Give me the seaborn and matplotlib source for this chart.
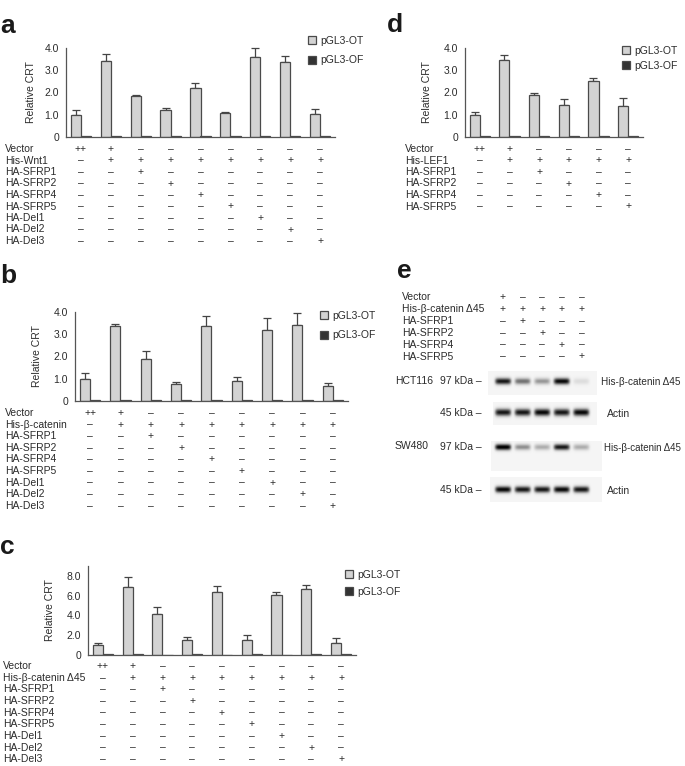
import numpy as np
import pandas as pd
import seaborn as sns
import matplotlib.pyplot as plt
from matplotlib import transforms

sns.set_style("white")
plt.rcParams['font.family'] = ['Liberation Sans', 'DejaVu Sans']

W, H = 685, 766
TXT = "#2b2b2b"
FS = 7.5

series = ["pGL3-OT", "pGL3-OF"]

# panel a - Wnt1
a_rows = ["Vector", "His-Wnt1", "HA-SFRP1", "HA-SFRP2", "HA-SFRP4",
          "HA-SFRP5", "HA-Del1", "HA-Del2", "HA-Del3"]
a_ot = [1.0, 3.43, 1.86, 1.22, 2.22, 1.08, 3.6, 3.36, 1.05]
a_err = [0.22, 0.3, 0.02, 0.07, 0.2, 0.05, 0.4, 0.3, 0.22]
a_of = [0.04, 0.04, 0.03, 0.04, 0.03, 0.04, 0.03, 0.05, 0.04]

# panel b - beta-catenin
b_rows = ["Vector", "His-β-catenin", "HA-SFRP1", "HA-SFRP2", "HA-SFRP4",
          "HA-SFRP5", "HA-Del1", "HA-Del2", "HA-Del3"]
b_ot = [1.0, 3.39, 1.88, 0.76, 3.39, 0.92, 3.2, 3.43, 0.69]
b_err = [0.25, 0.09, 0.38, 0.1, 0.43, 0.15, 0.51, 0.51, 0.1]
b_of = [0.04, 0.05, 0.04, 0.03, 0.05, 0.04, 0.05, 0.06, 0.03]

# panel c - beta-catenin delta45
c_rows = ["Vector", "His-β-catenin Δ45", "HA-SFRP1", "HA-SFRP2", "HA-SFRP4",
          "HA-SFRP5", "HA-Del1", "HA-Del2", "HA-Del3"]
c_ot = [1.0, 6.9, 4.13, 1.55, 6.42, 1.5, 6.08, 6.69, 1.18]
c_err = [0.24, 1.0, 0.71, 0.25, 0.54, 0.55, 0.31, 0.34, 0.5]
c_of = [0.06, 0.07, 0.05, 0.06, 0.05, 0.06, 0.05, 0.07, 0.06]

# panel d - LEF1
d_rows = ["Vector", "His-LEF1", "HA-SFRP1", "HA-SFRP2", "HA-SFRP4", "HA-SFRP5"]
d_ot = [0.98, 3.47, 1.9, 1.43, 2.52, 1.39]
d_err = [0.15, 0.23, 0.08, 0.26, 0.12, 0.35]
d_of = [0.04, 0.05, 0.03, 0.04, 0.04, 0.03]

signs9 = ["++ + – – – – – – –",
          "– + + + + + + + +",
          "– – + – – – – – –",
          "– – – + – – – – –",
          "– – – – + – – – –",
          "– – – – – + – – –",
          "– – – – – – + – –",
          "– – – – – – – + –",
          "– – – – – – – – +"]
signs6 = ["++ + – – – –",
          "– + + + + +",
          "– – + – – –",
          "– – – + – –",
          "– – – – + –",
          "– – – – – +"]

# panel e - western blots
e_rows = ["Vector", "His-β-catenin Δ45", "HA-SFRP1", "HA-SFRP2", "HA-SFRP4", "HA-SFRP5"]
e_signs = ["+ – – – –",
           "+ + + + +",
           "– + – – –",
           "– – + – –",
           "– – – + –",
           "– – – – +"]
hct_cat = [0.85, 0.55, 0.42, 0.9, 0.15]
hct_actin = [0.85, 0.85, 0.9, 0.85, 0.9]
sw_cat = [0.95, 0.45, 0.35, 0.85, 0.35]
sw_actin = [0.9, 0.85, 0.85, 0.9, 0.85]

fig = plt.figure(figsize=(W / 100, H / 100), dpi=100)


def px_axes(x0, y0, x1, y1):
    return fig.add_axes([x0 / W, 1 - y1 / H, (x1 - x0) / W, (y1 - y0) / H])


def bar_panel(box, ot, err, of, ymax, yticks, minor, leg_xy, leg_space, ylab_x):
    ax = px_axes(*box)
    n = len(ot)
    df = pd.DataFrame({"lane": list(range(n)) * 2,
                       "series": [series[0]] * n + [series[1]] * n,
                       "value": list(ot) + list(of)})
    sns.barplot(data=df, x="lane", y="value", hue="series",
                palette=["#d3d3d3", "#333333"], width=0.68, edgecolor="#4a4a4a",
                linewidth=0.9, errorbar=None, ax=ax)
    xs = [b.get_x() + b.get_width() / 2 for b in ax.containers[0]]
    ax.errorbar(xs, ot, yerr=[np.zeros(n), err], fmt="none", ecolor="#444444",
                elinewidth=0.9, capsize=3, capthick=0.9, zorder=0.5, clip_on=False)
    ax.set_xlim(-0.5, n - 0.5)
    ax.set_ylim(0, ymax)
    ax.set_xticks([])
    ax.set_xlabel("")
    ax.set_yticks(yticks)
    ax.set_yticklabels(["0"] + [f"{t:.1f}" for t in yticks[1:]])
    if minor:
        ax.set_yticks(minor, minor=True)
    ax.set_ylabel("Relative CRT", fontsize=FS, color=TXT)
    ax.yaxis.set_label_coords((ylab_x - box[0]) / (box[2] - box[0]), 0.5)
    sns.despine(ax=ax)
    for s in ["left", "bottom"]:
        ax.spines[s].set_color("#555555")
        ax.spines[s].set_linewidth(0.9)
    ax.tick_params(axis="y", which="both", length=3, width=0.8, direction="out",
                   labelsize=FS, colors="#444444", labelcolor=TXT, pad=2)
    ax.tick_params(axis="y", which="minor", length=2)
    handles, labels = ax.get_legend_handles_labels()
    for h in handles:
        h.set_edgecolor("#4a4a4a")
        h.set_linewidth(0.9)
    ax.legend(handles, labels, loc="upper left",
              bbox_to_anchor=(leg_xy[0] / W, 1 - leg_xy[1] / H),
              bbox_transform=fig.transFigure, frameon=False, fontsize=FS,
              handlelength=0.8, handleheight=0.8, handletextpad=0.4,
              labelspacing=leg_space, borderaxespad=0, borderpad=0,
              labelcolor=TXT)
    return ax


def sign_table(ax, rows, signs, label_x, y0, step):
    tr = transforms.blended_transform_factory(ax.transData, fig.transFigure)
    for r, (name, line) in enumerate(zip(rows, signs)):
        y = 1 - (y0 + r * step) / H
        fig.text(label_x / W, y, name, fontsize=FS, color=TXT, va="center", ha="left")
        for i, s in enumerate(line.split()):
            ax.text(i, y, s, transform=tr, fontsize=FS, color=TXT,
                    va="center", ha="center")


def letter(x, y, s):
    fig.text(x / W, 1 - y / H, s, fontsize=19, fontweight="bold",
             color="#1a1a1a", va="center", ha="left")


# a
ax_a = bar_panel((66, 48, 335, 137), a_ot, a_err, a_of, 4.0,
                 [0, 1, 2, 3, 4], None, (308, 36), 0.9, 36)
sign_table(ax_a, a_rows, signs9, 5, 149, 11.5)
letter(0, 26, "a")

# b
ax_b = bar_panel((75, 312, 348, 401), b_ot, b_err, b_of, 4.0,
                 [0, 1, 2, 3, 4], None, (320, 311), 0.9, 42)
sign_table(ax_b, b_rows, signs9, 5, 413, 11.6)
letter(0, 276, "b")

# c
ax_c = bar_panel((88, 566, 356, 655), c_ot, c_err, c_of, 9.0,
                 [0, 2, 4, 6, 8], [1, 3, 5, 7, 9], (345, 570), 0.65, 55)
sign_table(ax_c, c_rows, signs9, 3, 666, 11.65)
letter(0, 547, "c")

# d
ax_d = bar_panel((465, 48, 643, 137), d_ot, d_err, d_of, 4.0,
                 [0, 1, 2, 3, 4], None, (622, 46), 0.45, 432)
sign_table(ax_d, d_rows, signs6, 405, 149, 11.5)
letter(387, 25, "d")

# e
LANE0, LANE_STEP = 503, 19.6


def blot(box, intens, band_y, band_h):
    ax = px_axes(*box)
    lo = (box[0] - LANE0) / LANE_STEP
    hi = (box[2] - LANE0) / LANE_STEP
    X, Y = np.meshgrid(np.linspace(lo, hi, 300), np.linspace(0, 1, 80))
    img = np.full(X.shape, 0.08)
    for i, v in enumerate(intens):
        img += v * np.exp(-((X - i) / 0.42) ** 6) * np.exp(-((Y - band_y) / band_h) ** 2)
    ax.imshow(img, cmap="Greys", vmin=0, vmax=1, extent=(lo, hi, 1, 0),
              aspect="auto", interpolation="bilinear")
    ax.set_xlim(lo, hi)
    ax.set_ylim(1, 0)
    ax.axis("off")
    return ax


ax_e1 = blot((488, 371, 597, 395), hct_cat, 0.45, 0.14)
ax_e2 = blot((493, 402, 597, 425), hct_actin, 0.45, 0.17)
ax_e3 = blot((491, 441, 602, 471), sw_cat, 0.2, 0.11)
ax_e4 = blot((490, 477, 602, 502), sw_actin, 0.5, 0.14)

sign_table(ax_e1, e_rows, e_signs, 402, 297, 11.9)
letter(397, 271, "e")

for x, y, s, ha, fs in [(395, 381, "HCT116", "left", FS), (482, 381, "97 kDa –", "right", FS),
                        (482, 413, "45 kDa –", "right", FS),
                        (601, 382, "His-β-catenin Δ45", "left", 7.2),
                        (607, 414, "Actin", "left", FS),
                        (395, 446, "SW480", "left", FS), (482, 447, "97 kDa –", "right", FS),
                        (482, 490, "45 kDa –", "right", FS),
                        (604, 448, "His-β-catenin Δ45", "left", 7.0),
                        (607, 491, "Actin", "left", FS)]:
    fig.text(x / W, 1 - y / H, s, fontsize=fs, color=TXT, va="center", ha=ha)

fig.savefig("out.png", dpi=100)
